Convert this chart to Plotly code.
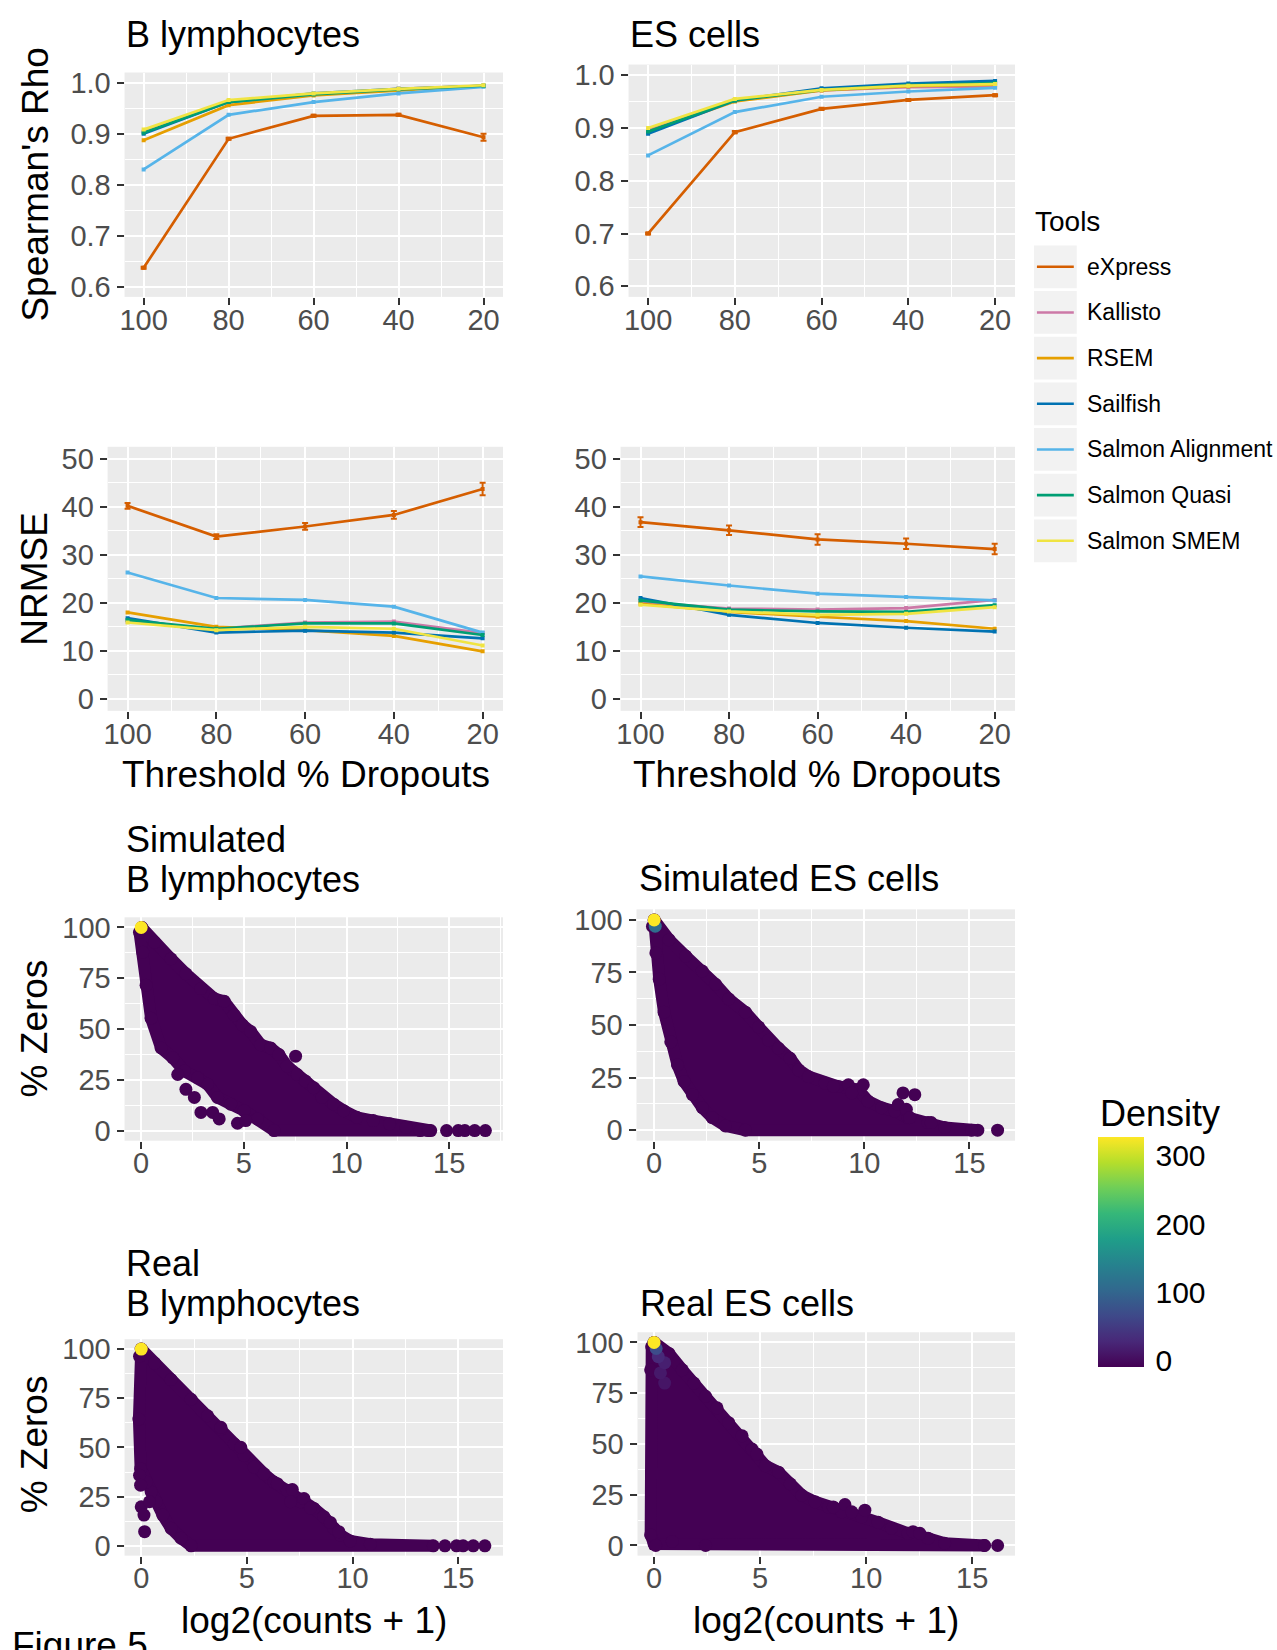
import plotly.graph_objects as go

W, H = 1277, 1650
FONT = "Liberation Sans, Arial, Helvetica, sans-serif"

# ---------------- data ----------------
TOOLS = ["eXpress", "Kallisto", "RSEM", "Sailfish", "Salmon Alignment", "Salmon Quasi", "Salmon SMEM"]
COLORS = ["#D55E00", "#CC79A7", "#E69F00", "#0072B2", "#56B4E9", "#009E73", "#F0E442"]
THRESHOLDS = [100, 80, 60, 40, 20]

# Spearman's rho, rows in TOOLS order
RHO_B = [
    [0.637, 0.890, 0.935, 0.937, 0.893],
    [0.904, 0.963, 0.977, 0.988, 0.994],
    [0.887, 0.956, 0.975, 0.985, 0.994],
    [0.900, 0.962, 0.979, 0.988, 0.994],
    [0.830, 0.937, 0.962, 0.979, 0.992],
    [0.902, 0.962, 0.977, 0.987, 0.994],
    [0.908, 0.966, 0.979, 0.988, 0.995],
]
RHO_ES = [
    [0.700, 0.892, 0.936, 0.953, 0.962],
    [0.897, 0.952, 0.971, 0.977, 0.978],
    [0.893, 0.950, 0.971, 0.979, 0.982],
    [0.889, 0.952, 0.975, 0.984, 0.989],
    [0.848, 0.930, 0.959, 0.969, 0.976],
    [0.893, 0.952, 0.972, 0.981, 0.985],
    [0.900, 0.955, 0.972, 0.980, 0.983],
]
NRMSE_B = [
    [40.2, 33.8, 35.9, 38.3, 43.7],
    [16.1, 14.6, 15.9, 16.1, 13.7],
    [18.0, 15.0, 14.3, 13.1, 9.9],
    [16.8, 13.8, 14.2, 13.8, 12.6],
    [26.3, 21.0, 20.6, 19.2, 13.8],
    [16.4, 14.6, 15.7, 15.7, 13.3],
    [15.9, 14.3, 15.0, 14.6, 11.1],
]
NRMSE_ES = [
    [36.8, 35.1, 33.2, 32.3, 31.2],
    [20.2, 18.8, 18.6, 18.9, 20.6],
    [19.8, 18.1, 17.1, 16.2, 14.6],
    [21.0, 17.5, 15.8, 14.8, 14.0],
    [25.5, 23.6, 21.9, 21.2, 20.5],
    [20.5, 18.6, 18.2, 18.1, 19.5],
    [19.6, 18.2, 17.5, 17.7, 19.1],
]
# eXpress error bars
ERR_RHO_B = [0.002, 0.002, 0.002, 0.002, 0.007]
ERR_RHO_ES = [0.002, 0.002, 0.002, 0.002, 0.002]
ERR_NRMSE_B = [0.6, 0.5, 0.7, 0.8, 1.3]
ERR_NRMSE_ES = [1.0, 1.0, 1.1, 1.1, 1.1]

# Scatter clouds: outline of dense cloud, sparse outlying points, high-density points
SIM_B_HULL_X = [0.03, 0.65, 1.45, 2.18, 2.91, 3.56, 4.04, 4.53, 4.93, 5.33, 5.82, 6.30, 6.71, 7.11, 7.60, 8.00, 8.40,
                8.81, 9.37, 9.86, 10.5, 11.3, 12.1, 12.9, 14.1,
                6.47, 5.66, 5.01, 4.36, 3.72, 3.23, 2.75, 2.10, 1.54, 0.97, 0.48, 0.24, 0.08, -0.08]
SIM_B_HULL_Y = [100.0, 92.7, 84.6, 77.2, 69.9, 65.0, 63.7, 56.9, 52.0, 48.8, 42.3, 40.7, 37.4, 31.7, 27.6, 24.4, 21.1,
                16.3, 13.0, 9.8, 6.5, 4.9, 3.3, 1.6, 0.0,
                0.0, 5.7, 9.8, 13.0, 16.3, 22.8, 26.0, 29.3, 35.8, 40.7, 55.3, 71.5, 87.8, 97.6]
SIM_B_DOTS_X = [2.18, 2.59, 2.91, 3.48, 3.80, 4.69, 5.09, 7.52, 1.78, 13.58, 13.98, 14.87, 15.44, 15.76, 16.24, 16.76]
SIM_B_DOTS_Y = [20.3, 16.3, 8.9, 8.9, 5.7, 3.6, 4.9, 36.6, 27.6, 0, 0, 0, 0, 0, 0, 0]
SIM_B_PEAK_X = [0.0]
SIM_B_PEAK_Y = [100.0]
SIM_B_PEAK_D = [328]

SIM_ES_HULL_X = [0.0, 0.71, 1.50, 2.29, 2.92, 3.55, 4.34, 4.97, 5.45, 5.92, 6.47, 6.87, 7.34, 8.13, 8.76, 9.71, 10.18,
                 10.82, 11.45, 12.08, 13.03, 13.82, 15.40,
                 4.34, 3.39, 2.76, 2.29, 1.82, 1.42, 1.11, 0.79, 0.47, 0.24, 0.08, -0.08]
SIM_ES_HULL_Y = [100.0, 90.6, 82.8, 75.7, 69.4, 62.4, 56.1, 49.1, 42.8, 38.9, 34.2, 28.7, 25.5, 22.4, 20.8, 19.3, 13.8,
                 10.7, 9.1, 6.0, 3.6, 1.3, 0.0,
                 0.0, 2.0, 6.0, 10.7, 16.9, 23.2, 31.0, 42.0, 56.1, 71.8, 84.3, 96.9]
SIM_ES_DOTS_X = [8.53, 9.24, 9.95, 9.40, 11.84, 12.40, 11.61, 12.00, 12.16, 13.18, 15.10, 16.34]
SIM_ES_DOTS_Y = [20.8, 21.6, 21.6, 17.7, 17.7, 16.9, 12.2, 9.9, 6.0, 3.6, 0, 0]
SIM_ES_PEAK_X = [0.05, 0.0]
SIM_ES_PEAK_Y = [97.0, 100.0]
SIM_ES_PEAK_D = [110, 328]

REAL_B_HULL_X = [0.0, 0.63, 1.41, 2.36, 3.14, 3.77, 4.40, 4.87, 5.34, 5.81, 6.28, 6.91, 7.54, 8.17, 8.64, 9.11, 9.42,
                 9.89, 10.84, 13.82,
                 2.36, 1.88, 1.41, 1.02, 0.71, 0.47, 0.24, -0.03, -0.11, -0.08]
REAL_B_HULL_Y = [100.0, 92.9, 84.5, 74.5, 66.1, 59.3, 51.8, 45.9, 40.0, 36.6, 32.4, 28.2, 22.4, 19.0, 14.8, 8.9, 5.5,
                 2.5, 0.8, 0.0,
                 0.0, 3.9, 8.9, 15.6, 22.4, 27.4, 32.4, 39.2, 64.4, 96.3]
REAL_B_DOTS_X = [3.77, 4.71, 6.44, 7.15, 7.07, 7.70, 8.01, 8.95, 9.35, -0.08, -0.03, 0.0, 0.13, 0.16, 0.39,
                 14.37, 14.92, 15.23, 15.71, 16.26]
REAL_B_DOTS_Y = [60.2, 50.1, 31.6, 28.6, 22.4, 24.0, 19.3, 11.9, 7.2, 35.8, 30.8, 19.8, 15.6, 7.2, 22.4,
                 0, 0, 0, 0, 0]
REAL_B_PEAK_X = [0.0]
REAL_B_PEAK_Y = [100.0]
REAL_B_PEAK_D = [328]

REAL_ES_HULL_X = [0.0, 0.70, 1.33, 1.88, 2.43, 2.97, 3.52, 4.15, 4.62, 5.25, 5.87, 6.42, 6.97, 7.59, 8.22, 8.85, 9.79,
                  10.57, 11.19, 11.98, 12.92, 13.70, 15.58,
                  2.43, 0.0, -0.16, -0.16, -0.11]
REAL_ES_HULL_Y = [100.0, 94.6, 86.5, 80.0, 73.5, 67.8, 60.5, 54.0, 47.5, 39.3, 36.1, 30.4, 24.7, 21.5, 19.0, 16.6, 14.1,
                  11.4, 8.5, 6.0, 3.6, 1.1, 0.0,
                  0.0, 0.7, 5.2, 86.5, 97.9]
REAL_ES_DOTS_X = [8.45, 9.00, 9.32, 9.94, 12.21, 12.53, 4.85, 0.08, 0.86, 15.58, 16.20]
REAL_ES_DOTS_Y = [19.0, 20.2, 16.6, 17.4, 6.8, 6.0, 45.0, 0, 2.0, 0, 0]
REAL_ES_PEAK_X = [0.5, 0.3, 0.5, 0.2, 0.1, 0.0]
REAL_ES_PEAK_Y = [80.0, 85.0, 90.0, 93.0, 97.0, 100.0]
REAL_ES_PEAK_D = [10, 14, 20, 30, 70, 328]

DENSITY_TICKS = [0, 100, 200, 300]
DENSITY_MIN, DENSITY_MAX = -9, 328
CLOUD_COLOR = "#440154"

# ---------------- helpers ----------------
def xd(a, b):
    return [a / W, b / W]


def yd(top, bottom):
    return [1 - bottom / H, 1 - top / H]


def px(x):
    return x / W


def py(y):
    return 1 - y / H


fig = go.Figure()

GRID = dict(showgrid=True, gridcolor="white", gridwidth=2.2, zeroline=False, showline=False,
            ticks="outside", ticklen=7, tickwidth=2.2, tickcolor="#333333",
            tickfont=dict(family=FONT, size=29, color="#4D4D4D"))


def axis(domain, rng, tick0, dtick, minor, fmt=None, standoff=0):
    d = dict(GRID)
    d.update(domain=domain, range=rng, tickmode="linear", tick0=tick0, dtick=dtick,
             ticklabelstandoff=standoff,
             minor=dict(showgrid=True, gridcolor="white", gridwidth=1.1, dtick=minor, tick0=tick0))
    if fmt:
        d["tickformat"] = fmt
    return d


def add_lines(values, err, n):
    xa, ya = f"x{n}", f"y{n}"
    for i, tool in enumerate(TOOLS):
        kw = {}
        if i == 0:
            kw["error_y"] = dict(type="data", array=err, color=COLORS[0], thickness=2, width=3)
        fig.add_trace(go.Scatter(x=THRESHOLDS, y=values[i], mode="lines+markers", name=tool,
                                 line=dict(color=COLORS[i], width=2.7),
                                 marker=dict(size=4, color=COLORS[i], symbol="square"),
                                 xaxis=xa, yaxis=ya, showlegend=False, hoverinfo="skip", **kw))


def add_cloud(hx, hy, dx, dy, kx, ky, kd, n):
    xa, ya = f"x{n}", f"y{n}"
    fig.add_trace(go.Scatter(x=hx + hx[:1], y=hy + hy[:1], mode="lines+markers", fill="toself",
                             fillcolor=CLOUD_COLOR, line=dict(color=CLOUD_COLOR, width=12),
                             marker=dict(size=13, color=CLOUD_COLOR),
                             xaxis=xa, yaxis=ya, showlegend=False, hoverinfo="skip"))
    fig.add_trace(go.Scatter(x=dx, y=dy, mode="markers", marker=dict(size=13, color=CLOUD_COLOR),
                             xaxis=xa, yaxis=ya, showlegend=False, hoverinfo="skip"))
    fig.add_trace(go.Scatter(x=kx, y=ky, mode="markers",
                             marker=dict(size=13, color=kd, coloraxis="coloraxis"),
                             xaxis=xa, yaxis=ya, showlegend=False, hoverinfo="skip"))


add_lines(RHO_B, ERR_RHO_B, 1)
add_lines(RHO_ES, ERR_RHO_ES, 2)
add_lines(NRMSE_B, ERR_NRMSE_B, 3)
add_lines(NRMSE_ES, ERR_NRMSE_ES, 4)
add_cloud(SIM_B_HULL_X, SIM_B_HULL_Y, SIM_B_DOTS_X, SIM_B_DOTS_Y, SIM_B_PEAK_X, SIM_B_PEAK_Y, SIM_B_PEAK_D, 5)
add_cloud(SIM_ES_HULL_X, SIM_ES_HULL_Y, SIM_ES_DOTS_X, SIM_ES_DOTS_Y, SIM_ES_PEAK_X, SIM_ES_PEAK_Y, SIM_ES_PEAK_D, 6)
add_cloud(REAL_B_HULL_X, REAL_B_HULL_Y, REAL_B_DOTS_X, REAL_B_DOTS_Y, REAL_B_PEAK_X, REAL_B_PEAK_Y, REAL_B_PEAK_D, 7)
add_cloud(REAL_ES_HULL_X, REAL_ES_HULL_Y, REAL_ES_DOTS_X, REAL_ES_DOTS_Y, REAL_ES_PEAK_X, REAL_ES_PEAK_Y,
          REAL_ES_PEAK_D, 8)

# colorbar geometry (pixels)
CB_LEFT, CB_W, CB_TOP, CB_LEN = 1097, 46, 1140, 230

XR_LINE = [104.5, 15.4]
XS = -10  # pull x tick labels closer to the axis
layout = dict(
    width=W, height=H, margin=dict(l=0, r=0, t=0, b=0),
    paper_bgcolor="white", plot_bgcolor="#EBEBEB", showlegend=False,
    font=dict(family=FONT, color="black"),
    xaxis=axis(xd(120, 500), XR_LINE, 20, 20, 10, standoff=XS),
    yaxis=axis(yd(67, 293), [0.58, 1.02], 0.6, 0.1, 0.05, ".1f"),
    xaxis2=axis(xd(626, 1014), XR_LINE, 20, 20, 10, standoff=XS),
    yaxis2=axis(yd(59, 293), [0.58, 1.02], 0.6, 0.1, 0.05, ".1f"),
    xaxis3=axis(xd(103, 500), XR_LINE, 20, 20, 10, standoff=XS),
    yaxis3=axis(yd(444, 710), [-2.5, 52.5], 0, 10, 5),
    xaxis4=axis(xd(618, 1014), XR_LINE, 20, 20, 10, standoff=XS),
    yaxis4=axis(yd(444, 710), [-2.5, 52.5], 0, 10, 5),
    xaxis5=axis(xd(120, 500), [-0.81, 17.62], 0, 5, 2.5, standoff=XS),
    yaxis5=axis(yd(918, 1143), [-5, 105], 0, 25, 12.5),
    xaxis6=axis(xd(634, 1014), [-0.84, 17.17], 0, 5, 2.5, standoff=XS),
    yaxis6=axis(yd(910, 1143), [-5, 105], 0, 25, 12.5),
    xaxis7=axis(xd(120, 500), [-0.79, 17.12], 0, 5, 2.5, standoff=XS),
    yaxis7=axis(yd(1343, 1561), [-5, 105], 0, 25, 12.5),
    xaxis8=axis(xd(635, 1014), [-0.78, 17.02], 0, 5, 2.5, standoff=XS),
    yaxis8=axis(yd(1336, 1561), [-5, 105], 0, 25, 12.5),
    coloraxis=dict(
        colorscale="Viridis", cmin=DENSITY_MIN, cmax=DENSITY_MAX,
        colorbar=dict(x=px(CB_LEFT), xanchor="left", y=py(CB_TOP + CB_LEN / 2), yanchor="middle",
                      len=CB_LEN, lenmode="pixels", thickness=CB_W, thicknessmode="pixels",
                      xpad=0, ypad=0, outlinewidth=0, tickmode="array", tickvals=DENSITY_TICKS,
                      ticks="outside", ticklen=6, tickwidth=1, tickcolor="white",
                      tickfont=dict(family=FONT, size=30, color="black"))),
)
for i in range(1, 9):
    layout[f"xaxis{'' if i == 1 else i}"]["anchor"] = f"y{'' if i == 1 else i}"
    layout[f"yaxis{'' if i == 1 else i}"]["anchor"] = f"x{'' if i == 1 else i}"
fig.update_layout(**layout)

# ---------------- text ----------------
ann = []


def text(s, x, y, size, xanchor="left", angle=0, color="black"):
    ann.append(dict(text=s, x=px(x), y=py(y), xref="paper", yref="paper", showarrow=False,
                    xanchor=xanchor, yanchor="middle", textangle=angle,
                    font=dict(family=FONT, size=size, color=color)))


TITLE = 36
text("B lymphocytes", 119, 29, TITLE)
text("ES cells", 625, 29, TITLE)
text("Simulated", 119, 840, TITLE)
text("B lymphocytes", 119, 880, TITLE)
text("Simulated ES cells", 634, 879, TITLE)
text("Real", 119, 1267, TITLE)
text("B lymphocytes", 119, 1307, TITLE)
text("Real ES cells", 635, 1307, TITLE)

text("Spearman's Rho", 31, 180, 37, "center", -90)
text("NRMSE", 30, 577, 37, "center", -90)
text("% Zeros", 30, 1030, 37, "center", -90)
text("% Zeros", 30, 1449, 37, "center", -90)

text("Threshold % Dropouts", 302, 774, 37, "center")
text("Threshold % Dropouts", 815, 774, 37, "center")
text("log2(counts + 1)", 310, 1626, 37, "center")
text("log2(counts + 1)", 824, 1626, 37, "center")
text("Figure 5", 5, 1652, 37)

# custom legend
text("Tools", 1032, 217, 28)
shapes = []
for i, tool in enumerate(TOOLS):
    cy = 262.7 + 46 * i
    shapes.append(dict(type="rect", xref="paper", yref="paper", x0=px(1033), x1=px(1076),
                       y0=py(cy + 21.5), y1=py(cy - 21.5), fillcolor="#F2F2F2", line=dict(width=0),
                       layer="below"))
    shapes.append(dict(type="line", xref="paper", yref="paper", x0=px(1036), x1=px(1073),
                       y0=py(cy), y1=py(cy), line=dict(color=COLORS[i], width=2.6)))
    text(tool, 1084, cy, 23)

# white tick marks inside the colour bar (ggplot style, both edges)
for v in DENSITY_TICKS:
    ty = CB_TOP + CB_LEN - (v - DENSITY_MIN) / (DENSITY_MAX - DENSITY_MIN) * CB_LEN
    for a, b in ((CB_LEFT, CB_LEFT + 9), (CB_LEFT + CB_W - 9, CB_LEFT + CB_W)):
        shapes.append(dict(type="line", xref="paper", yref="paper", x0=px(a), x1=px(b),
                           y0=py(ty), y1=py(ty), line=dict(color="white", width=1.5), layer="above"))

text("Density", 1097, 1116, 36)

fig.update_layout(annotations=ann, shapes=shapes)
fig.write_html("out.html")
